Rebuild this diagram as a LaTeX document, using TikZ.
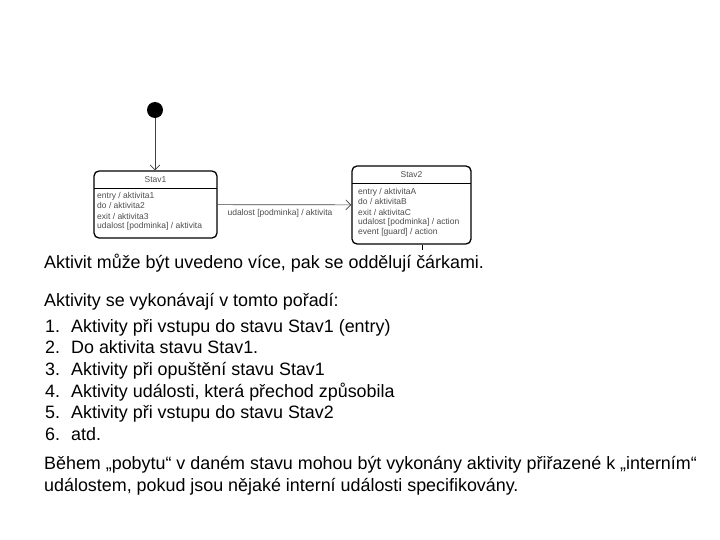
\documentclass[tikz,border=0pt]{standalone}
\usepackage{fontspec}
\setmainfont{Liberation Sans}
\usetikzlibrary{arrows.meta}
\tikzset{
stav/.style={draw,rounded corners=5pt,line width=1.3pt,inner sep=0pt},
act/.style={anchor=base west,inner sep=0pt,text=black!70,font=\fontsize{8.5}{9}\selectfont},
txt/.style={anchor=base west,inner sep=0pt,font=\fontsize{17.9}{20}\selectfont},
prechod/.style={-{Straight Barb[length=5pt,width=10pt]},line width=.7pt,black!75}
}
\begin{document}
\begin{tikzpicture}[x=1pt,y=-1pt]
\useasboundingbox(0,0)rectangle(720,540);
% states
\node[circle,fill,inner sep=0pt,minimum size=16pt](init)at(155,110){};
\node[stav,minimum width=123pt,minimum height=67pt](stav1)at(155.5,204.5){};
\node[stav,minimum width=119pt,minimum height=78pt](stav2)at(411.5,205){};
\draw[line width=.8pt](94,188)--(217,188);
\draw[line width=.8pt](352,183)--(471,183);
\node[act,anchor=base](t1)at(155.5,183){Stav1};
\node[act,anchor=base](t2)at(411.5,178){Stav2};
% activities
\foreach\t[count=\i]in{entry / aktivita1,do / aktivita2,exit / aktivita3,{udalost [podminka] / aktivita}}{
\node[act](a\i)at(97,189+10*\i){\t};}
\foreach\t[count=\i]in{entry / aktivitaA,do / aktivitaB,exit / aktivitaC,{udalost [podminka] / action},{event [guard] / action}}{
\node[act](b\i)at(358,185+10*\i){\t};}
% transitions
\draw[prechod](init)--(init|-stav1.north);
\draw[prechod](stav1)--(stav2);
\node[act,anchor=base](lbl)at(280,215){udalost [podminka] / aktivita};
\coordinate(tk)at(422,250);
\draw[line width=.7pt](tk|-stav2.south)--(tk);
% text
\node[txt](l1)at(44,268){Aktivit může být uvedeno více, pak se oddělují čárkami.};
\node[txt](l2)at(44,306){Aktivity se vykonávají v tomto pořadí:};
\foreach\t[count=\i]in{Aktivity při vstupu do stavu Stav1 (entry),Do aktivita stavu Stav1.,Aktivity při opuštění stavu Stav1,{Aktivity události, která přechod způsobila},Aktivity při vstupu do stavu Stav2,atd.}{
\node[txt](n\i)at(45,310.3+21.7*\i){\i.};
\node[txt](p\i)at(71,310.3+21.7*\i){\t};}
\node[txt](l3)at(44,469){Během „pobytu“ v daném stavu mohou být vykonány aktivity přiřazené k „interním“};
\node[txt](l4)at(44,491){událostem, pokud jsou nějaké interní události specifikovány.};
\end{tikzpicture}
\end{document}
